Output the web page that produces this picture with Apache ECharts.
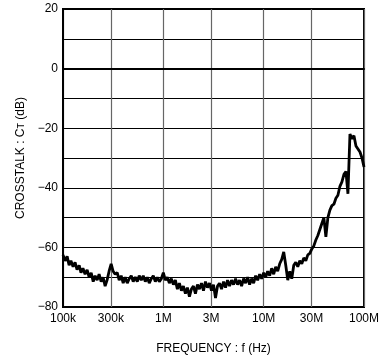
<!DOCTYPE html>
<html>
<head>
<meta charset="utf-8">
<script src="https://cdn.jsdelivr.net/npm/echarts@6/dist/echarts.min.js"></script>
<style>
  html, body { margin: 0; padding: 0; background: #fff; }
  #chart { width: 386px; height: 356px; }
</style>
</head>
<body>
<div id="chart"></div>
<script>
// frequency points (kHz)
const freqKHz = [
  100, 105, 110, 115, 120, 126, 132, 138, 145, 151, 158, 166, 174, 182, 191, 200, 209, 219, 229, 240,
  251, 263, 275, 288, 302, 316, 331, 347, 363, 380, 398, 417, 437, 457, 479, 501, 525, 550, 575, 603,
  631, 661, 692, 724, 759, 794, 832, 871, 912, 955,
  1000, 1047, 1096, 1148, 1202, 1259, 1318, 1380, 1445, 1514, 1585, 1660, 1738, 1820, 1905, 1995, 2089, 2188, 2291, 2399,
  2512, 2630, 2754, 2884, 3020, 3162, 3311, 3467, 3631, 3802, 3981, 4169, 4365, 4571, 4786, 5012, 5248, 5495, 5754, 6026,
  6310, 6607, 6918, 7244, 7586, 7943, 8318, 8710, 9120, 9550,
  10000, 10470, 10960, 11480, 12020, 12590, 13180, 13800, 14450, 15140, 15850, 16600, 17380, 18200, 19050, 19950, 20890, 21880, 22910, 23990,
  25120, 26300, 27540, 28840, 30200, 31620, 33110, 34670, 36310, 38020, 39810, 41690, 43650, 45710, 47860, 50120, 52480, 54950, 57540, 60260,
  63100, 66070, 69180, 72440, 75860, 79430, 83180, 87100, 91200, 95500, 100000
];

// crosstalk (dB)
const crosstalk = [
  -62.5, -64.5, -63, -66, -64.5, -66.5, -65, -67.5, -66, -68.5, -67, -69, -67.5, -70, -68.5, -71.5, -69.5, -71, -69, -71.5,
  -70, -73, -71, -68, -65.5, -68, -69, -68.5, -71, -69.5, -72, -70, -72, -70.5, -69.5, -71.5, -70, -71.5, -69.5, -71,
  -69.5, -71.5, -70, -72, -70.5, -69.5, -71.5, -70, -71.5, -70.5,
  -68.5, -71, -70, -72, -70.5, -72.5, -71, -74, -72, -74.5, -73, -75.5, -73.5, -76.5, -74, -73, -75.5, -72.5, -74, -72,
  -74.5, -71.5, -73.5, -72, -74.5, -72.5, -77, -73, -72, -74, -71.5, -73.5, -71, -73, -71, -72.5, -70.5, -72.5, -71, -73,
  -70.5, -72, -70, -72.5, -70.5, -72, -69.5, -71, -69, -70.5,
  -68.5, -70, -68, -69.5, -67, -69, -66.5, -68, -65.5, -64, -61.5, -66, -71, -68, -70.5, -66, -65, -66.5, -64.5, -65.5,
  -63.5, -64.5, -62.5, -62, -60.5, -59.5, -57.5, -56, -54, -52, -50, -56.5, -50, -47.5, -46, -45.5, -43.5, -42.5, -39.5, -38,
  -35.5, -34.5, -42, -22, -23.5, -22.5, -26, -27, -28, -30, -33
];

// x tick positions (kHz) and labels
const xTicksKHz = [100, 300, 1000, 3000, 10000, 30000, 100000];
const xTickLabels = ['100k', '300k', '1M', '3M', '10M', '30M', '100M'];

const yMin = -80;
const yMax = 20;

const FONT = '"Liberation Sans", Arial, Helvetica, sans-serif';

const xTickPos = xTicksKHz.map(f => Math.log10(f * 1000));
const seriesData = freqKHz.map((f, i) => [Math.log10(f * 1000), crosstalk[i]]);

const chart = echarts.init(document.getElementById('chart'), null, { renderer: 'canvas' });

const option = {
  animation: false,
  grid: {
    left: 63,
    right: 22,
    top: 9,
    bottom: 49,
    outerBoundsMode: 'none',
    containLabel: false,
    show: true,
    borderColor: '#000',
    borderWidth: 2,
    backgroundColor: 'transparent'
  },
  xAxis: {
    type: 'value',
    min: 5,
    max: 8,
    name: 'FREQUENCY : f (Hz)',
    nameLocation: 'middle',
    nameGap: 36,
    nameTextStyle: { color: '#000', fontFamily: FONT, fontSize: 12 },
    axisLine: { show: true, lineStyle: { color: '#000', width: 2 } },
    axisTick: { show: false, customValues: xTickPos },
    axisLabel: {
      customValues: xTickPos,
      color: '#000',
      fontFamily: FONT,
      fontSize: 12,
      margin: 6,
      formatter: function (v) {
        let idx = 0;
        let best = Infinity;
        xTickPos.forEach((p, i) => {
          if (Math.abs(p - v) < best) { best = Math.abs(p - v); idx = i; }
        });
        return xTickLabels[idx];
      }
    },
    splitLine: { show: true, lineStyle: { color: '#666', width: 1.2 } }
  },
  yAxis: {
    type: 'value',
    min: yMin,
    max: yMax,
    interval: 10,
    name: 'CROSSTALK : Cᴛ (dB)',
    nameLocation: 'middle',
    nameGap: 36,
    nameTextStyle: { color: '#000', fontFamily: FONT, fontSize: 12 },
    axisLine: { show: true, lineStyle: { color: '#000', width: 2 } },
    axisTick: { show: false },
    axisLabel: {
      color: '#000',
      fontFamily: FONT,
      fontSize: 12,
      margin: 5,
      formatter: function (v) {
        if (v % 20 !== 0) return '';
        return v < 0 ? '\u2212' + Math.abs(v) : String(v);
      }
    },
    splitLine: { show: true, lineStyle: { color: '#000', width: 1.2 } }
  },
  series: [{
    type: 'line',
    data: seriesData,
    showSymbol: false,
    smooth: false,
    lineStyle: { color: '#000', width: 2.8 },
    z: 5
  }]
};

chart.setOption(option);
</script>
</body>
</html>
